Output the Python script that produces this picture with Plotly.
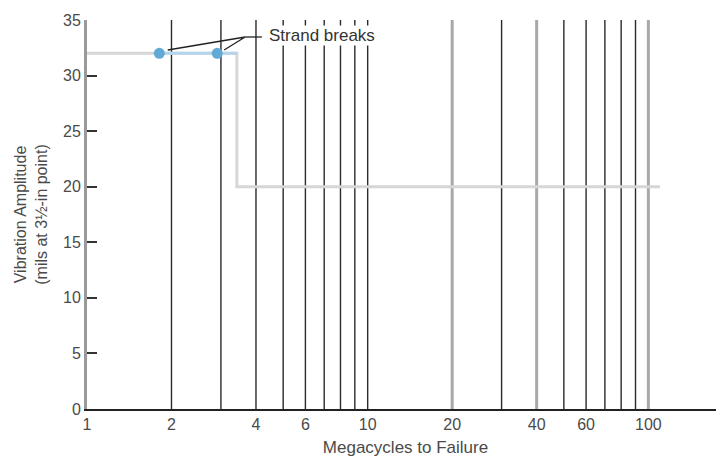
import numpy as np
import plotly.graph_objects as go

# ---- data ----
grid_black = [2, 3, 4, 5, 6, 7, 8, 9, 10, 30, 50, 60, 70, 80, 90]
grid_gray = [20, 40, 100]
y_top = 35
step_x = [1, 3.42, 3.42, 110]
step_y = [32, 32, 20, 20]
break_x = [1.81, 2.91]
break_y = [32, 32]
break_line_x = [1.81, 3.42]
break_line_y = [32, 32]
leader_x = [1.94, 3.66, 3.08, None, 3.66, 4.2]
leader_y = [32.3, 33.47, 32.3, None, 33.47, 33.47]
label_text = "Strand breaks"
label_x = 4.42
label_y = 33.6
xtick_vals = [1, 2, 4, 6, 10, 20, 40, 60, 100]
ytick_vals = [0, 5, 10, 15, 20, 25, 30, 35]

FONT = "Liberation Sans, Arial, sans-serif"
TXT = "#4a4a4a"


def vlines(xs):
    px, py = [], []
    for v in xs:
        px += [v, v, None]
        py += [0, y_top, None]
    return px, py


fig = go.Figure()

gx, gy = vlines(grid_gray)
fig.add_trace(go.Scatter(x=gx, y=gy, mode="lines",
                         line=dict(color="#a8a8a8", width=3),
                         hoverinfo="skip", showlegend=False))
bx, by = vlines(grid_black)
fig.add_trace(go.Scatter(x=bx, y=by, mode="lines",
                         line=dict(color="#2a2a2a", width=1.4),
                         hoverinfo="skip", showlegend=False))

fig.add_trace(go.Scatter(x=step_x, y=step_y, mode="lines",
                         line=dict(color="#d6d6d6", width=3),
                         hoverinfo="skip", showlegend=False))
fig.add_trace(go.Scatter(x=break_line_x, y=break_line_y, mode="lines",
                         line=dict(color="#b3d6ec", width=3),
                         hoverinfo="skip", showlegend=False))
fig.add_trace(go.Scatter(x=leader_x, y=leader_y, mode="lines",
                         line=dict(color="#222222", width=1.3),
                         hoverinfo="skip", showlegend=False))
fig.add_trace(go.Scatter(x=break_x, y=break_y, mode="markers",
                         marker=dict(color="#62a9d6", size=11),
                         hoverinfo="skip", showlegend=False))

fig.add_annotation(x=np.log10(label_x), y=label_y, xref="x", yref="y",
                   text=label_text, showarrow=False, xanchor="left",
                   yanchor="middle", bgcolor="white", borderpad=0,
                   font=dict(family=FONT, size=17, color="#333333"))

fig.update_layout(
    width=716, height=449,
    margin=dict(l=79, r=0, t=12, b=48),
    paper_bgcolor="white", plot_bgcolor="white",
    font=dict(family=FONT, size=16, color=TXT),
    xaxis=dict(
        type="log", range=[0, np.log10(186)],
        tickvals=xtick_vals, ticktext=[str(v) for v in xtick_vals],
        showgrid=False, zeroline=False, ticks="",
        showline=True, linecolor="#222222", linewidth=2,
        tickfont=dict(family=FONT, size=16, color=TXT),
        title=dict(text="Megacycles to Failure", standoff=9,
                   font=dict(family=FONT, size=17, color=TXT)),
    ),
    yaxis=dict(
        range=[0, 35], tickvals=ytick_vals,
        showgrid=False, zeroline=False,
        ticks="inside", ticklen=10, tickwidth=2, tickcolor="#333333",
        showline=True, linecolor="#9a9a9a", linewidth=3,
        tickfont=dict(family=FONT, size=16, color=TXT),
        title=dict(text="Vibration Amplitude<br>(mils at 3½-in point)",
                   standoff=12,
                   font=dict(family=FONT, size=16, color=TXT)),
    ),
)

fig.write_html("out.html")
